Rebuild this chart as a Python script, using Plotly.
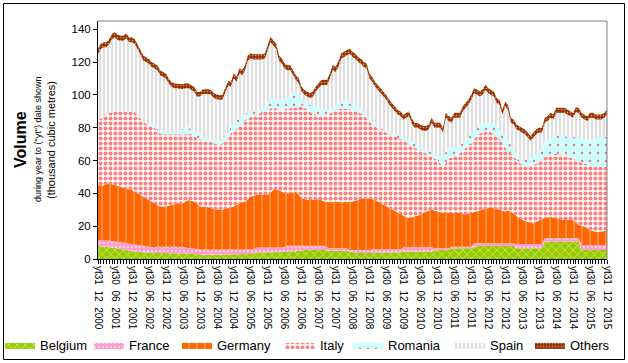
import plotly.graph_objects as go

# ---------------- data (thousand cubic metres, year-to-date, monthly Dec 2000 .. Dec 2015) ----
month_index = list(range(181))  # 0 = Dec 2000, 180 = Dec 2015

tick_positions = [0, 6, 12, 18, 24, 30, 36, 42, 48, 54, 60, 66, 72, 78, 84, 90,
                  96, 102, 108, 114, 120, 126, 132, 138, 144, 150, 156, 162, 168, 174, 180]
tick_labels = ["yt31 12 2000", "yt30 06 2001", "yt31 12 2001", "yt30 06 2002", "yt31 12 2002",
               "yt30 06 2003", "yt31 12 2003", "yt30 06 2004", "yt31 12 2004", "yt30 06 2005",
               "yt31 12 2005", "yt30 06 2006", "yt31 12 2006", "yt30 06 2007", "yt31 12 2007",
               "yt30 06 2008", "yt31 12 2008", "yt30 06 2009", "yt31 12 2009", "yt30 06 2010",
               "yt31 12 2010", "yt30 06 2011", "yt31 12 2011", "yt30 06 2012", "yt31 12 2012",
               "yt30 06 2013", "yt31 12 2013", "yt30 06 2014", "yt31 12 2014", "yt30 06 2015",
               "yt31 12 2015"]

belgium = [
    7.9, 7.8, 7.7, 7.5, 7.3, 7.0, 6.7, 6.4, 6.1, 5.9, 5.7, 5.2,
    4.7, 4.5, 4.3, 4.3, 4.3, 4.0, 3.8, 3.6, 3.6, 3.6, 3.6, 3.6,
    3.6, 3.6, 3.6, 3.6, 3.6, 3.6, 3.6, 3.4, 3.2, 3.2, 3.0, 2.8,
    2.6, 2.6, 2.6, 2.6, 2.6, 2.6, 2.6, 2.6, 2.6, 2.8, 3.0, 3.0,
    3.0, 3.0, 3.0, 3.0, 3.0, 3.0, 3.0, 3.5, 4.0, 4.0, 4.0, 4.0,
    4.0, 4.0, 4.0, 4.0, 4.0, 4.3, 4.5, 4.7, 4.7, 4.7, 4.7, 5.0,
    5.5, 5.7, 5.7, 5.7, 5.7, 5.7, 5.7, 5.7, 5.5, 5.2, 5.0, 5.0,
    5.0, 5.0, 5.0, 5.0, 4.8, 4.4, 4.0, 3.6, 3.6, 3.6, 3.6, 3.6,
    3.6, 3.8, 4.0, 4.0, 4.0, 4.0, 4.0, 4.0, 4.0, 4.0, 4.0, 4.2,
    4.5, 4.5, 4.5, 4.5, 4.5, 4.5, 4.5, 4.5, 4.5, 4.5, 4.5, 5.0,
    5.7, 5.7, 5.7, 5.7, 5.7, 6.2, 6.5, 6.5, 6.5, 6.5, 6.5, 6.5,
    6.5, 7.0, 7.9, 7.9, 7.9, 7.9, 7.9, 7.9, 7.9, 7.9, 7.9, 7.9,
    7.9, 7.9, 7.9, 7.9, 6.5, 6.5, 6.5, 6.5, 6.5, 6.5, 6.5, 6.5,
    6.5, 6.5, 10.6, 10.6, 10.6, 10.6, 10.6, 10.6, 10.6, 10.6, 10.6, 10.6,
    10.6, 10.6, 10.6, 5.5, 5.5, 5.5, 5.5, 5.5, 5.5, 5.5, 5.5, 5.5,
    5.5]

france = [
    3.7, 3.8, 3.9, 3.9, 3.9, 3.9, 3.9, 3.9, 3.9, 3.9, 3.9, 4.2,
    4.5, 4.4, 4.3, 3.9, 3.6, 3.7, 3.7, 3.7, 3.6, 3.8, 3.9, 3.9,
    3.9, 3.9, 3.9, 3.9, 3.9, 3.9, 3.7, 3.6, 3.3, 3.3, 3.2, 3.2,
    3.1, 3.1, 3.1, 3.1, 3.1, 3.1, 3.1, 3.1, 3.1, 3.0, 3.0, 3.0,
    3.0, 3.0, 3.0, 3.0, 3.0, 3.0, 3.0, 2.5, 3.0, 3.0, 3.0, 3.0,
    3.0, 3.0, 3.0, 3.0, 3.0, 2.7, 3.0, 3.3, 3.3, 3.3, 3.3, 3.0,
    2.5, 2.3, 2.3, 2.3, 2.3, 2.3, 2.3, 2.3, 2.5, 1.8, 1.5, 1.5,
    1.5, 1.5, 1.5, 1.5, 1.7, 1.1, 1.5, 1.9, 1.9, 1.9, 1.9, 1.9,
    1.9, 2.2, 2.0, 2.0, 2.0, 2.0, 2.0, 2.0, 2.0, 2.0, 2.0, 1.8,
    2.6, 2.6, 2.6, 2.6, 2.6, 2.6, 2.6, 2.6, 2.6, 2.6, 2.6, 1.5,
    0.8, 0.8, 0.8, 0.8, 0.8, 1.3, 1.0, 1.0, 1.0, 1.0, 1.0, 1.0,
    1.0, 2.6, 1.7, 1.7, 1.7, 1.7, 1.7, 1.7, 1.7, 1.7, 1.7, 1.7,
    1.6, 1.6, 1.6, 1.6, 2.6, 2.6, 2.6, 2.6, 2.6, 2.6, 2.6, 2.6,
    2.6, 2.6, 2.0, 2.0, 2.0, 2.0, 2.0, 2.0, 2.0, 2.0, 2.0, 2.0,
    2.0, 2.0, 2.0, 3.0, 3.0, 3.0, 3.0, 3.0, 3.0, 3.0, 3.0, 3.0,
    3.0]

germany = [
    33.4, 33.4, 33.4, 34.1, 34.8, 34.6, 34.4, 34.2, 34.0, 33.7, 33.4, 33.1,
    32.8, 32.1, 31.4, 30.8, 30.1, 29.3, 28.5, 27.7, 26.8, 25.6, 24.5, 24.5,
    24.5, 25.0, 25.5, 26.0, 26.5, 26.5, 26.7, 28.0, 29.5, 29.0, 28.8, 28.0,
    26.3, 26.3, 26.3, 25.8, 25.3, 24.8, 24.3, 24.3, 24.3, 24.7, 25.0, 25.5,
    26.0, 27.0, 28.0, 28.5, 29.0, 30.5, 32.0, 32.5, 32.0, 32.0, 32.0, 32.0,
    32.0, 33.5, 35.0, 35.0, 35.0, 34.0, 32.5, 32.0, 32.0, 32.5, 33.0, 31.0,
    29.0, 28.5, 28.0, 28.0, 28.0, 28.2, 28.5, 27.8, 27.0, 27.8, 28.0, 28.3,
    28.5, 28.3, 28.0, 28.0, 28.0, 29.3, 29.5, 30.0, 30.5, 31.0, 31.5, 31.5,
    31.5, 30.5, 30.0, 29.0, 28.0, 27.0, 26.0, 25.0, 24.0, 23.0, 22.0, 21.0,
    18.9, 18.4, 17.9, 18.4, 18.9, 19.4, 19.9, 20.9, 21.9, 22.4, 22.9, 23.0,
    22.5, 22.0, 21.5, 21.5, 21.5, 20.5, 20.5, 20.5, 20.5, 20.0, 19.5, 20.0,
    20.5, 18.9, 19.4, 19.9, 20.4, 20.9, 21.4, 21.4, 21.4, 20.9, 20.4, 19.9,
    19.5, 20.0, 19.5, 18.0, 16.9, 15.9, 14.6, 14.1, 13.6, 13.1, 12.6, 13.6,
    14.6, 15.1, 12.2, 12.7, 13.2, 12.7, 12.2, 11.6, 11.1, 11.1, 11.1, 11.1,
    11.1, 9.6, 8.1, 11.7, 11.2, 10.2, 9.1, 8.6, 8.1, 8.1, 8.1, 8.6,
    9.1]

italy = [
    39.6, 40.6, 41.6, 42.3, 43.0, 43.9, 44.7, 45.2, 45.7, 46.2, 46.7, 47.2,
    47.7, 48.7, 47.6, 46.6, 45.6, 45.5, 45.5, 45.6, 45.7, 45.0, 44.5, 44.0,
    44.0, 43.5, 43.0, 42.5, 42.0, 42.0, 42.0, 41.0, 40.5, 40.5, 40.0, 39.5,
    41.0, 40.4, 40.1, 40.3, 40.2, 40.1, 40.0, 39.4, 40.6, 41.3, 43.2, 45.1,
    46.0, 46.5, 47.0, 48.1, 49.0, 49.1, 48.6, 49.1, 49.2, 49.8, 50.2, 50.7,
    51.8, 51.4, 49.9, 49.9, 49.3, 49.7, 51.3, 51.9, 51.9, 51.4, 51.3, 53.7,
    56.7, 55.7, 54.7, 53.7, 52.7, 52.0, 51.1, 51.8, 52.6, 53.4, 54.2, 54.9,
    55.7, 56.4, 57.2, 57.2, 57.2, 56.4, 55.7, 54.7, 53.7, 52.2, 50.6, 48.6,
    46.6, 45.5, 44.5, 44.5, 44.6, 44.6, 44.6, 45.0, 45.5, 45.5, 45.6, 46.0,
    46.5, 45.5, 45.0, 43.2, 41.5, 40.5, 39.5, 37.4, 35.3, 33.8, 32.3, 31.8,
    31.3, 29.7, 28.2, 30.7, 33.3, 33.8, 34.3, 35.3, 36.3, 38.3, 40.4, 41.4,
    42.4, 44.5, 46.5, 47.0, 47.5, 47.5, 47.5, 46.5, 45.5, 44.5, 43.4, 41.0,
    39.0, 35.8, 35.3, 34.8, 34.3, 33.8, 33.5, 33.5, 33.5, 34.5, 35.5, 35.5,
    35.5, 36.5, 37.5, 37.5, 37.5, 38.5, 39.5, 39.6, 39.6, 39.1, 38.6, 38.1,
    37.6, 38.1, 38.5, 38.5, 38.5, 39.0, 39.6, 39.6, 39.6, 39.6, 39.6, 39.1,
    38.6]

romania = [
    0.0, 0.0, 0.0, 0.0, 0.0, 0.0, 0.0, 0.0, 0.0, 0.0, 0.0, 0.0,
    0.0, 0.0, 0.0, 0.0, 0.0, 0.0, 0.5, 1.0, 1.5, 1.5, 1.5, 1.0,
    1.0, 1.0, 1.0, 1.0, 1.0, 1.0, 3.5, 4.0, 4.0, 2.5, 2.5, 3.0,
    3.5, 2.0, 1.8, 1.8, 1.8, 1.8, 2.0, 2.0, 2.5, 2.6, 3.0, 3.9,
    4.5, 5.1, 4.5, 4.0, 4.0, 4.1, 3.6, 3.1, 2.0, 1.5, 2.0, 2.2,
    4.5, 6.5, 5.5, 4.9, 5.5, 6.1, 6.0, 5.9, 8.0, 10.0, 8.0, 7.1,
    3.1, 4.0, 5.1, 4.0, 4.0, 4.5, 5.1, 4.0, 3.1, 2.5, 2.0, 2.5,
    3.0, 3.6, 4.1, 4.6, 5.1, 4.6, 4.1, 3.5, 3.0, 2.5, 2.1, 1.5,
    1.0, 1.0, 1.1, 1.0, 0.9, 1.5, 1.9, 1.2, 1.0, 1.5, 1.9, 1.9,
    1.9, 2.0, 3.4, 2.9, 2.9, 2.0, 1.9, 1.9, 2.0, 2.5, 3.0, 2.5,
    3.0, 4.5, 6.1, 6.5, 6.1, 5.5, 5.1, 5.1, 5.1, 5.1, 5.0, 5.5,
    6.1, 5.5, 5.0, 5.5, 5.1, 5.1, 5.1, 5.6, 6.1, 5.5, 5.1, 6.0,
    7.5, 6.5, 5.1, 3.5, 3.0, 2.5, 3.1, 3.6, 4.1, 4.6, 5.1, 5.6,
    6.1, 8.0, 9.1, 9.6, 10.1, 10.6, 11.2, 11.7, 12.2, 12.1, 12.1, 12.6,
    13.1, 14.1, 15.2, 14.2, 14.2, 14.7, 15.2, 16.2, 17.2, 17.7, 18.2, 18.2,
    18.2]

spain = [
    40.4, 42.4, 42.4, 41.2, 42.0, 44.6, 45.3, 43.8, 43.3, 43.3, 44.8, 42.3,
    42.3, 41.3, 40.4, 38.4, 37.4, 37.5, 37.0, 35.4, 34.8, 35.5, 34.0, 34.0,
    33.0, 30.0, 28.0, 27.0, 27.0, 26.5, 24.0, 24.0, 23.5, 24.5, 24.5, 22.5,
    22.5, 26.1, 26.6, 26.9, 27.0, 25.6, 25.5, 25.6, 23.9, 26.6, 28.3, 24.5,
    27.5, 23.4, 27.5, 25.4, 27.0, 31.3, 31.8, 30.8, 31.3, 31.2, 30.3, 30.1,
    31.7, 33.6, 32.6, 31.2, 24.2, 22.2, 18.7, 17.2, 15.1, 10.1, 8.7, 7.2,
    5.2, 3.8, 3.2, 4.3, 6.3, 9.3, 11.3, 14.4, 15.3, 15.3, 19.3, 22.8,
    20.3, 22.2, 26.2, 26.7, 27.2, 29.2, 28.2, 28.3, 27.3, 27.8, 27.3, 28.9,
    25.4, 25.0, 23.4, 22.5, 21.5, 19.9, 18.5, 16.8, 15.5, 14.0, 12.5, 12.1,
    10.6, 13.0, 13.5, 11.0, 9.6, 11.0, 10.6, 10.7, 11.7, 13.2, 17.7, 16.2,
    16.7, 17.3, 14.7, 20.8, 16.6, 15.7, 18.6, 17.6, 16.6, 19.1, 19.6, 19.6,
    20.5, 22.5, 19.5, 17.0, 17.4, 19.9, 17.4, 16.9, 16.4, 14.5, 15.5, 11.5,
    17.5, 19.2, 13.6, 16.2, 15.7, 16.7, 16.7, 15.7, 13.7, 10.7, 11.7, 12.2,
    11.7, 8.3, 11.6, 11.6, 12.6, 10.6, 13.5, 13.5, 13.5, 14.1, 13.6, 12.6,
    11.6, 15.1, 14.6, 13.1, 12.6, 11.6, 13.6, 13.1, 11.6, 11.1, 10.6, 11.6,
    13.6]

others = [
    3.2, 3.1, 3.0, 3.0, 3.1, 3.2, 3.2, 3.1, 3.0, 3.0, 3.1, 3.0,
    3.0, 2.9, 2.9, 3.0, 3.0, 2.9, 2.9, 3.0, 3.0, 2.9, 2.9, 2.9,
    3.0, 3.0, 2.9, 2.9, 2.9, 3.0, 3.0, 3.0, 2.9, 2.9, 2.9, 2.8,
    2.8, 2.8, 2.9, 2.9, 2.9, 2.8, 2.8, 2.8, 2.9, 3.0, 3.0, 3.0,
    3.0, 3.0, 3.1, 3.1, 3.1, 3.1, 3.2, 3.2, 3.2, 3.2, 3.2, 3.2,
    3.3, 3.3, 3.3, 3.2, 3.2, 3.1, 3.1, 3.1, 3.0, 3.0, 3.0, 3.0,
    3.0, 3.0, 3.0, 3.0, 3.0, 3.1, 3.1, 3.1, 3.2, 3.2, 3.2, 3.2,
    3.2, 3.3, 3.3, 3.3, 3.3, 3.2, 3.2, 3.1, 3.1, 3.0, 3.0, 3.0,
    3.0, 2.9, 2.9, 2.9, 2.9, 2.8, 2.8, 2.8, 2.8, 2.8, 2.8, 2.8,
    2.8, 2.9, 2.9, 2.9, 2.9, 2.9, 2.9, 3.0, 3.0, 3.0, 3.0, 3.0,
    3.0, 3.0, 3.0, 3.1, 3.1, 3.1, 3.1, 3.1, 3.1, 3.1, 3.2, 3.2,
    3.2, 3.2, 3.2, 3.2, 3.2, 3.1, 3.1, 3.1, 3.1, 3.0, 3.0, 3.0,
    3.0, 3.0, 3.0, 2.9, 2.9, 2.9, 2.9, 2.9, 2.9, 2.9, 3.0, 3.0,
    3.0, 3.0, 3.0, 3.0, 3.1, 3.1, 3.1, 3.1, 3.1, 3.1, 3.1, 3.0,
    3.0, 3.0, 3.0, 3.0, 3.0, 3.0, 3.1, 3.1, 3.1, 3.1, 3.0, 3.0,
    3.0]

for arr in (belgium, france, germany, italy, romania, spain, others):
    assert len(arr) == len(month_index), len(arr)

# ---------------- styling ----------------
W, H = 628, 363
PL, PR, PT, PB = 98, 607, 21, 259      # plot area in pixels
FONT = "Liberation Sans, Arial, sans-serif"

pw, ph = PR - PL, PB - PT


def px_x(p):
    return (p - PL) / pw


def px_y(p):
    return (PB - p) / ph


# (name, values, fill pattern, legend text start in px)
series = [
    ("Belgium", belgium, dict(shape="x", bgcolor="#99CC00", fgcolor="#FFFFFF", size=6, solidity=0.25), 40),
    ("France", france, dict(shape=".", bgcolor="#FF99CC", fgcolor="#FFFFFF", size=4, solidity=0.3), 129),
    ("Germany", germany, dict(shape="|", bgcolor="#FF6600", fgcolor="#FFFFFF", size=8, solidity=0.12), 217),
    ("Italy", italy, dict(shape=".", bgcolor="#FFFFFF", fgcolor="#FF0000", size=5, solidity=0.52), 320),
    ("Romania", romania, dict(shape=".", bgcolor="#CCFFFF", fgcolor="#FF0000", size=8, solidity=0.08), 388),
    ("Spain", spain, dict(shape="|", bgcolor="#FFFFFF", fgcolor="#C0C0C0", size=4, solidity=0.6), 490),
    ("Others", others, dict(shape=".", bgcolor="#993300", fgcolor="#FFFFFF", size=3, solidity=0.2), 570),
]

fig = go.Figure()
layout_legends = {}
for i, (name, vals, pat, text_x) in enumerate(series):
    lid = "legend" if i == 0 else f"legend{i + 1}"
    fig.add_trace(go.Scatter(
        x=month_index, y=vals, name=name, mode="lines",
        stackgroup="one", line=dict(width=0, color=pat["bgcolor"]),
        fillcolor=pat["bgcolor"], fillpattern=pat, legend=lid,
        hoverinfo="skip",
    ))
    layout_legends[lid] = dict(
        xref="paper", yref="paper", x=px_x(text_x - 40), y=px_y(345),
        xanchor="left", yanchor="middle", orientation="h",
        font=dict(family=FONT, size=13, color="#000000"),
        bgcolor="rgba(0,0,0,0)", itemwidth=30,
    )

fig.update_layout(
    width=W, height=H, autosize=False,
    margin=dict(l=PL, r=W - PR, t=PT, b=H - PB, pad=0, autoexpand=False),
    paper_bgcolor="#FFFFFF", plot_bgcolor="#FFFFFF",
    font=dict(family=FONT, size=11, color="#000000"),
    showlegend=True,
    **layout_legends,
)

fig.update_xaxes(
    range=[0, 180], tickmode="array", tickvals=tick_positions,
    ticktext=[t.replace(" ", "\u00a0 ") for t in tick_labels],
    tickangle=90, tickfont=dict(family=FONT, size=10, color="#000000"),
    ticks="outside", ticklen=4, tickcolor="#000000", tickwidth=1,
    minor=dict(tickmode="linear", tick0=0, dtick=1, ticks="outside",
               ticklen=4, tickcolor="#000000", tickwidth=1),
    showline=True, linecolor="#000000", linewidth=1,
    showgrid=False, zeroline=False, fixedrange=True, automargin=False,
)
fig.update_yaxes(
    range=[0, 145], tickmode="array", tickvals=[0, 20, 40, 60, 80, 100, 120, 140],
    tickfont=dict(family=FONT, size=11.5, color="#000000"),
    ticks="outside", ticklen=4, tickcolor="#000000", tickwidth=1,
    showline=True, linecolor="#000000", linewidth=1,
    showgrid=False, zeroline=False, fixedrange=True, automargin=False,
)

# plot-area border (top / right, grey) and chart border (black)
fig.add_shape(type="line", xref="paper", yref="paper", x0=0, x1=1, y0=1, y1=1,
              line=dict(color="#808080", width=1), layer="above")
fig.add_shape(type="line", xref="paper", yref="paper", x0=1, x1=1, y0=0, y1=1,
              line=dict(color="#808080", width=1), layer="above")
fig.add_shape(type="rect", xref="paper", yref="paper",
              x0=px_x(3.5), x1=px_x(624.5), y0=px_y(359.5), y1=px_y(3.5),
              line=dict(color="#000000", width=1), fillcolor="rgba(0,0,0,0)", layer="above")

# y-axis title (three lines of different sizes)
fig.add_annotation(text="<b>Volume</b>", xref="paper", yref="paper", x=px_x(20), y=0.5,
                   xanchor="center", yanchor="middle", textangle=-90, showarrow=False,
                   font=dict(family=FONT, size=16, color="#000000"))
fig.add_annotation(text="during year to (\"yt\") date shown", xref="paper", yref="paper",
                   x=px_x(38), y=0.5, xanchor="center", yanchor="middle", textangle=-90,
                   showarrow=False, font=dict(family=FONT, size=9, color="#000000"))
fig.add_annotation(text="(thousand cubic metres)", xref="paper", yref="paper",
                   x=px_x(51), y=0.5, xanchor="center", yanchor="middle", textangle=-90,
                   showarrow=False, font=dict(family=FONT, size=11, color="#000000"))

fig.write_html(
    "out.html",
    config={"displayModeBar": False, "staticPlot": True},
    post_script="document.body.style.margin='0';document.body.style.padding='0';"
                "document.documentElement.style.overflow='hidden';",
)
